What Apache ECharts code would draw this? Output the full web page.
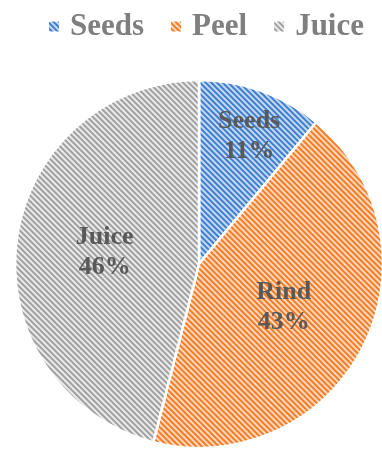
<!DOCTYPE html>
<html><head><meta charset="utf-8">
<script src="https://cdn.jsdelivr.net/npm/echarts@6/dist/echarts.min.js"></script>
<style>html,body{margin:0;padding:0;background:#fff}#c{width:382px;height:450px}</style>
</head><body><div id="c"></div>
<script>
const categories = ['Seeds', 'Peel', 'Juice'];
const labelNames = ['Seeds', 'Rind', 'Juice'];
const values = [11, 43, 46];
const baseColors = ['#c6d9f0', '#fcd9bf', '#ebebeb'];
const stripeColors = ['#3f7fd0', '#f57c25', '#a0a0a0'];
const labelOffsets = [[18, -38], [0, 0], [0, 0]];

const chart = echarts.init(document.getElementById('c'), null, {renderer: 'canvas'});
const data = categories.map((n, i) => ({
  name: n,
  value: values[i],
  itemStyle: {
    color: baseColors[i],
    decal: {
      symbol: 'rect',
      symbolSize: 1,
      color: stripeColors[i],
      dashArrayX: [1, 0],
      dashArrayY: [1.5, 1.6],
      rotation: Math.PI / 4
    }
  },
  label: {offset: labelOffsets[i]}
}));
chart.setOption({
  animation: false,
  legend: {
    data: categories,
    top: 6,
    left: 42,
    itemWidth: 12,
    itemHeight: 12,
    itemGap: 25,
    icon: 'rect',
    textStyle: {fontFamily: 'Liberation Serif', fontWeight: 'bold', fontSize: 31, color: '#7f7f7f', padding: [0, 0, 0, 5]}
  },
  series: [{
    type: 'pie',
    center: [199, 264],
    radius: [0, 184],
    startAngle: 90,
    clockwise: true,
    itemStyle: {borderColor: '#ffffff', borderWidth: 2.5},
    label: {
      show: true,
      position: 'inside',
      fontFamily: 'Liberation Serif',
      fontWeight: 'bold',
      fontSize: 26,
      lineHeight: 30,
      color: '#595959',
      formatter: p => labelNames[p.dataIndex] + '\n' + Math.round(p.percent) + '%'
    },
    labelLine: {show: false},
    emphasis: {disabled: true},
    data: data
  }]
});
</script></body></html>
